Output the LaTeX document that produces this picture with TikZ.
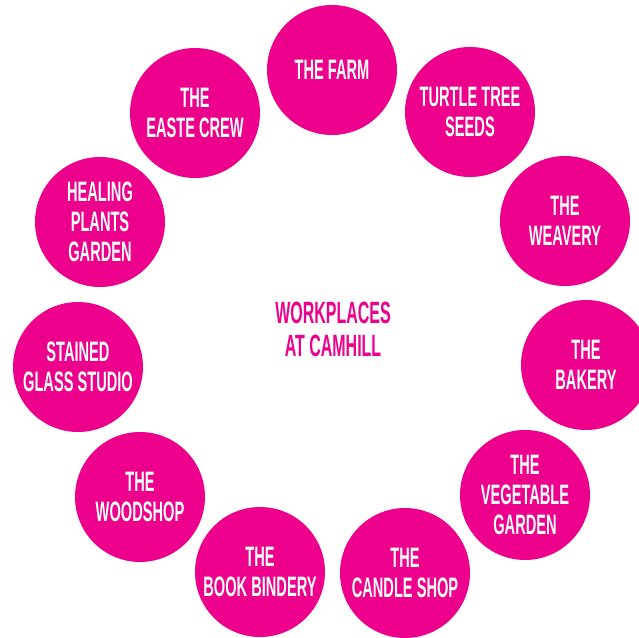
\documentclass[tikz,border=0pt]{standalone}
\usepackage{fontspec}
\setsansfont{Liberation Sans}[FakeStretch=0.52]
\usetikzlibrary{positioning}
\definecolor{cmagenta}{HTML}{EC008C}
\tikzset{
  every picture/.style={font=\sffamily\bfseries},
  spot/.style={circle, fill=cmagenta, minimum size=2.6cm, inner sep=0pt, text=white, align=center,
    font=\sffamily\bfseries\fontsize{16}{17}\selectfont},
  hub/.style={text=cmagenta, align=center, font=\sffamily\bfseries\fontsize{17.5}{18.7}\selectfont},
}

\begin{document}
\begin{tikzpicture}[x=0.02cm, y=-0.02cm]
  \useasboundingbox (0,0) rectangle (639,638);
  % ring of workplaces, clockwise from the top
  \foreach \px/\py/\txt [count=\i] in {
      332/70/{THE FARM},
      470/112/{TURTLE TREE\\SEEDS},
      565/221/{THE\\WEAVERY},
      586/365/{THE\\BAKERY},
      525/495/{THE\\VEGETABLE\\GARDEN},
      405/573/{THE\\CANDLE SHOP},
      260/572/{THE\\BOOK BINDERY},
      140/497/{THE\\WOODSHOP},
      78/367/{STAINED\\GLASS STUDIO},
      100/222/{HEALING\\PLANTS\\GARDEN},
      195/113/{THE\\EASTE CREW}}
    \node[spot] (ws\i) at (\px,\py) {\txt};
  \node[hub] (hub) at (333,329) {WORKPLACES\\AT CAMHILL};
\end{tikzpicture}
\end{document}
